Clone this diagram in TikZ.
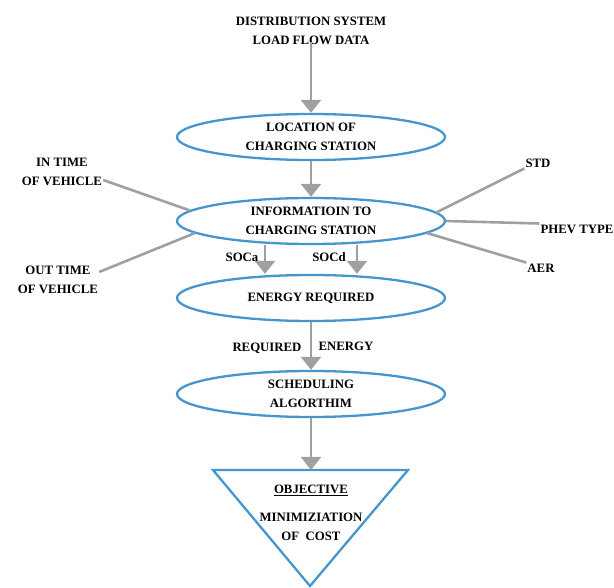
\documentclass[tikz,border=0pt]{standalone}
\usepackage{fontspec}
\setmainfont{Liberation Serif}
\usetikzlibrary{shapes.geometric,arrows.meta,calc}
\definecolor{eblue}{RGB}{70,150,205}
\definecolor{agray}{RGB}{160,160,160}
\begin{document}
\begin{tikzpicture}[x=1pt,y=-1pt,
  every node/.style={font=\bfseries\fontsize{12.8}{19}\selectfont, align=center, inner sep=1pt},
  oval/.style={ellipse, draw=eblue, line width=2.3pt, minimum width=268pt, minimum height=46pt, inner sep=0pt},
  flow/.style={draw=agray, line width=2.6pt, -{Triangle[width=20pt,length=13pt]}, color=agray},
  side/.style={draw=agray, line width=2.6pt}]
\useasboundingbox (0,0) rectangle (614,588);
\node (title) at (311,31) {DISTRIBUTION SYSTEM\\LOAD FLOW DATA};
\node[oval] (loc) at (311,137) {LOCATION OF\\CHARGING STATION};
\node[oval] (info) at (311,221) {INFORMATIOIN TO\\CHARGING STATION};
\node[oval] (energy) at (311,298) {ENERGY REQUIRED};
\node[oval] (sched) at (311,394) {SCHEDULING\\ALGORTHIM};
\node (intime) at (62,172) {IN TIME\\OF VEHICLE};
\node (outtime) at (58,280) {OUT TIME\\OF VEHICLE};
\node (std) at (538,163) {STD};
\node (phev) at (577,229) {PHEV TYPE};
\node (aer) at (541,268) {AER};
\node (soca) at (242,257) {SOCa};
\node (socd) at (329,257) {SOCd};
\node (req) at (267,348) {REQUIRED};
\node (en) at (346,346) {ENERGY};
\coordinate (tl) at (213,470);
\coordinate (tr) at (408,470);
\coordinate (tb) at (310,586);
\coordinate (ttop) at (311,470);
\draw[eblue, line width=2.3pt] (tl) -- (tr) -- (tb) -- cycle;
\node (objt) at (311,490) {\underline{OBJECTIVE}};
\node (obj) at (311,527) {MINIMIZIATION\\OF\ \ COST};
\draw[flow] ([yshift=4pt]title.south) -- (loc.north);
\draw[flow] (loc.south) -- (info.north);
\draw[flow] ([xshift=-46pt]info.south) -- ([xshift=-46pt]energy.north);
\draw[flow] ([xshift=46pt]info.south) -- ([xshift=46pt]energy.north);
\draw[flow] (energy.south) -- (sched.north);
\draw[flow] (sched.south) -- (ttop);
\draw[side] ([yshift=7pt]intime.south east) -- (info.175);
\draw[side] ([yshift=-7pt]outtime.north east) -- (info.186);
\draw[side] (std.south west) -- (info.4);
\draw[side] (info.east) -- (phev.north west);
\draw[side] (aer.north west) -- (info.-6);
\end{tikzpicture}
\end{document}
